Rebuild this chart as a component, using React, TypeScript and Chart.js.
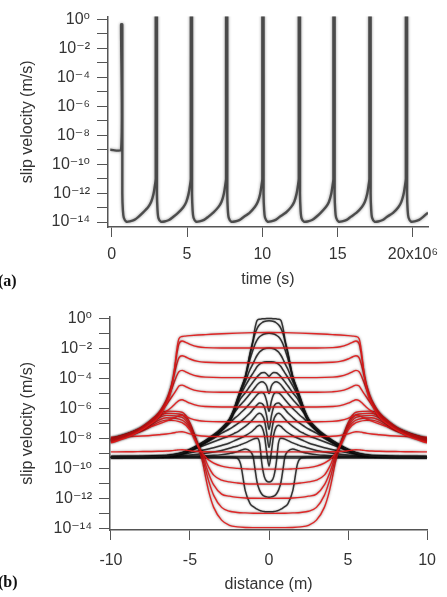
import React, { useEffect, useRef } from 'react';
import { Chart, registerables } from 'chart.js';

Chart.register(...registerables);

// ---------------- Panel (a): slip velocity vs time ----------------
// time in units of 10^6 s
const A_TIME_E6 = [
  -0.1, 0.62, 0.62, 0.70, 0.70, 0.74, 0.80, 0.97, 1.20, 1.50, 1.77, 2.07, 2.42, 2.62, 2.77, 2.86, 2.92,
  2.92, 3.00, 3.00, 3.04, 3.10, 3.27, 3.50, 3.80, 4.07, 4.40, 4.75, 4.95, 5.10, 5.19, 5.25,
  5.25, 5.33, 5.33, 5.37, 5.43, 5.60, 5.83, 6.13, 6.40, 6.74, 7.09, 7.29, 7.44, 7.53, 7.59,
  7.59, 7.67, 7.67, 7.71, 7.77, 7.94, 8.17, 8.47, 8.74, 9.15, 9.50, 9.70, 9.85, 9.94, 10.00,
  10.00, 10.08, 10.08, 10.12, 10.18, 10.35, 10.58, 10.88, 11.15, 11.57, 11.92, 12.12, 12.27, 12.36, 12.42,
  12.42, 12.50, 12.50, 12.54, 12.60, 12.77, 13.00, 13.30, 13.57, 13.87, 14.22, 14.42, 14.57, 14.66, 14.72,
  14.72, 14.80, 14.80, 14.84, 14.90, 15.07, 15.30, 15.60, 15.87, 16.26, 16.61, 16.81, 16.96, 17.05, 17.11,
  17.11, 17.19, 17.19, 17.23, 17.29, 17.46, 17.69, 17.99, 18.26, 18.68, 19.03, 19.23, 19.38, 19.47, 19.53,
  19.53, 19.61, 19.61, 19.65, 19.71, 19.88, 20.11, 20.41, 20.68, 21.00,
];
// log10 of slip velocity (m/s)
const A_LOG_V = [
  -9.0, -9.0, -0.34, -0.34, -12.0, -13.2, -13.7, -13.97, -13.95, -13.85, -13.64, -13.35, -12.96, -12.6, -12.06, -11.5, -11.0,
  0.5, 0.5, -12.0, -13.2, -13.72, -13.98, -13.96, -13.86, -13.65, -13.36, -12.97, -12.6, -12.05, -11.5, -11.0,
  0.5, 0.5, -12.0, -13.2, -13.7, -13.97, -13.95, -13.85, -13.64, -13.35, -12.95, -12.6, -12.06, -11.5, -11.0,
  0.5, 0.5, -12.0, -13.2, -13.71, -13.98, -13.96, -13.86, -13.66, -13.36, -12.96, -12.6, -12.07, -11.5, -11.0,
  0.5, 0.5, -12.0, -13.2, -13.7, -13.97, -13.95, -13.85, -13.64, -13.34, -12.95, -12.6, -12.05, -11.5, -11.0,
  0.5, 0.5, -12.0, -13.2, -13.72, -13.98, -13.96, -13.86, -13.65, -13.36, -12.96, -12.61, -12.06, -11.5, -11.0,
  0.5, 0.5, -12.0, -13.2, -13.7, -13.97, -13.95, -13.85, -13.64, -13.35, -12.96, -12.6, -12.06, -11.5, -11.0,
  0.5, 0.5, -12.0, -13.2, -13.71, -13.98, -13.96, -13.86, -13.65, -13.36, -12.97, -12.6, -12.06, -11.5, -11.0,
  0.5, 0.5, -12.0, -13.2, -13.7, -13.97, -13.95, -13.85, -13.64, -13.35,
];
const A_X_TICKS = [0, 5e6, 10e6, 15e6, 20e6];
const A_X_LABELS = ['0', '5', '10', '15', '20x10\u2076'];

// shared log-axis ticks
const Y_TICK_EXPS = [0, -1, -2, -3, -4, -5, -6, -7, -8, -9, -10, -11, -12, -13, -14];
const Y_TICK_LABELS = ['10⁰', '', '10⁻²', '', '10⁻⁴', '', '10⁻⁶', '', '10⁻⁸', '', '10⁻¹⁰', '', '10⁻¹²', '', '10⁻¹⁴'];

// ---------------- Panel (b): slip velocity vs distance ----------------
const B_X_TICKS = [-10, -5, 0, 5, 10];
const B_X_LABELS = ['-10', '-5', '0', '5', '10'];

// black (nucleation) profiles: log10 velocity at |distance| (m), symmetric about 0
const BLACK_DIST = [0, 0.15, 0.3, 0.45, 0.6, 0.75, 0.9, 1.0, 1.2, 1.5, 1.8, 2.0, 2.2, 2.5, 3, 3.5, 4.5, 5.5, 6.5, 8, 10];
const K_A = [0, 0, -0.01, -0.02, -0.04, -0.12, -0.7, -1.35, -2.3, -3.85, -4.75, -5.35, -6.0, -6.7, -7.3, -7.75, -8.45, -8.95, -9.15, -9.22, -9.25];
const K_B = [-0.15, -0.16, -0.2, -0.28, -0.42, -0.65, -1.05, -1.5, -2.4, -3.9, -4.8, -5.4, -6.05, -6.75, -7.35, -7.8, -8.48, -8.97, -9.16, -9.22, -9.25];
const K_C = [-0.98, -0.99, -1.03, -1.1, -1.22, -1.42, -1.75, -2.05, -2.7, -3.95, -4.85, -5.45, -6.05, -6.75, -7.35, -7.8, -8.48, -8.97, -9.16, -9.22, -9.25];
const K_D = [-1.97, -1.98, -2.02, -2.1, -2.23, -2.45, -2.75, -2.98, -3.4, -4.2, -4.95, -5.5, -6.1, -6.8, -7.38, -7.82, -8.5, -8.98, -9.17, -9.22, -9.25];
const K_E = [-2.88, -2.88, -2.9, -2.95, -3.05, -3.2, -3.45, -3.62, -3.95, -4.5, -5.1, -5.6, -6.15, -6.82, -7.4, -7.85, -8.5, -8.98, -9.17, -9.22, -9.25];
const K_F = [-3.85, -3.7, -3.6, -3.62, -3.72, -3.88, -4.08, -4.22, -4.5, -4.95, -5.35, -5.75, -6.2, -6.85, -7.42, -7.87, -8.52, -8.99, -9.17, -9.22, -9.25];
const K_G = [-5.0, -4.5, -4.28, -4.22, -4.28, -4.42, -4.62, -4.76, -5.02, -5.4, -5.75, -6.0, -6.3, -6.9, -7.45, -7.9, -8.53, -9.0, -9.18, -9.22, -9.25];
const K_H = [-6.2, -5.5, -5.05, -4.93, -4.95, -5.08, -5.27, -5.4, -5.65, -6.0, -6.3, -6.5, -6.68, -7.0, -7.5, -7.92, -8.55, -9.0, -9.18, -9.22, -9.25];
const K_I = [-7.4, -6.5, -5.88, -5.67, -5.63, -5.75, -5.93, -6.05, -6.3, -6.6, -6.88, -7.03, -7.17, -7.37, -7.65, -8.0, -8.58, -9.02, -9.18, -9.22, -9.25];
const K_J = [-8.6, -7.6, -6.75, -6.42, -6.32, -6.4, -6.58, -6.7, -6.92, -7.2, -7.42, -7.56, -7.66, -7.82, -8.02, -8.22, -8.62, -9.03, -9.18, -9.22, -9.25];
const K_K = [-9.85, -8.9, -7.75, -7.25, -7.12, -7.2, -7.35, -7.45, -7.62, -7.82, -7.97, -8.07, -8.16, -8.3, -8.47, -8.62, -8.85, -9.06, -9.19, -9.22, -9.25];
const K_L = [-10.9, -10.85, -10.55, -9.7, -8.3, -7.98, -8.0, -8.05, -8.15, -8.3, -8.42, -8.5, -8.56, -8.66, -8.8, -8.9, -9.05, -9.15, -9.2, -9.22, -9.25];
const K_M = [-11.92, -11.9, -11.85, -11.72, -11.45, -10.95, -9.95, -9.25, -8.85, -8.7, -8.8, -8.88, -8.94, -9.0, -9.08, -9.13, -9.18, -9.2, -9.22, -9.23, -9.25];
const K_N = [-12.9, -12.9, -12.88, -12.85, -12.8, -12.72, -12.62, -12.55, -12.35, -11.5, -9.7, -9.32, -9.27, -9.26, -9.25, -9.25, -9.25, -9.25, -9.25, -9.25, -9.25];
const K_BASE1 = [-9.2, -9.2, -9.2, -9.2, -9.2, -9.2, -9.2, -9.2, -9.2, -9.2, -9.2, -9.2, -9.2, -9.2, -9.2, -9.2, -9.2, -9.2, -9.2, -9.2, -9.2];
const K_BASE2 = [-9.3, -9.3, -9.3, -9.3, -9.3, -9.3, -9.3, -9.3, -9.3, -9.3, -9.3, -9.3, -9.3, -9.3, -9.3, -9.3, -9.3, -9.3, -9.3, -9.3, -9.3];

// red (rupture / post-rupture) profiles, upper family
const RED_DIST = [0, 1, 2, 3, 4, 4.5, 5.0, 5.3, 5.5, 5.7, 5.85, 6.0, 6.2, 6.5, 7.0, 7.5, 8.3, 9, 10];
const R_0 = [-0.93, -0.94, -0.97, -1.01, -1.07, -1.1, -1.14, -1.17, -1.2, -1.35, -2.2, -3.6, -4.85, -5.75, -6.6, -7.05, -7.6, -7.95, -8.3];
const R_1 = [-1.97, -1.97, -1.97, -1.97, -1.94, -1.88, -1.72, -1.57, -1.5, -1.7, -2.5, -3.5, -4.6, -5.6, -6.5, -6.98, -7.55, -7.9, -8.25];
const R_2 = [-2.95, -2.95, -2.95, -2.95, -2.92, -2.86, -2.7, -2.55, -2.48, -2.62, -3.1, -3.75, -4.55, -5.45, -6.4, -6.9, -7.5, -7.85, -8.2];
const R_3 = [-3.94, -3.94, -3.94, -3.94, -3.91, -3.85, -3.69, -3.54, -3.46, -3.55, -3.85, -4.25, -4.8, -5.45, -6.3, -6.82, -7.45, -7.8, -8.15];
const R_4 = [-4.92, -4.92, -4.92, -4.92, -4.89, -4.83, -4.67, -4.52, -4.44, -4.5, -4.75, -5.0, -5.3, -5.75, -6.35, -6.8, -7.4, -7.75, -8.1];
const R_5 = [-5.9, -5.9, -5.9, -5.9, -5.87, -5.81, -5.65, -5.5, -5.42, -5.47, -5.6, -5.75, -5.95, -6.2, -6.6, -6.92, -7.4, -7.72, -8.05];
const R_6 = [-6.89, -6.89, -6.89, -6.89, -6.86, -6.8, -6.66, -6.52, -6.45, -6.48, -6.55, -6.62, -6.72, -6.85, -7.05, -7.22, -7.5, -7.72, -8.0];
const R_7 = [-7.87, -7.87, -7.87, -7.87, -7.85, -7.8, -7.7, -7.6, -7.55, -7.56, -7.58, -7.62, -7.66, -7.7, -7.75, -7.8, -7.85, -7.88, -7.92];
const R_8 = [-8.9, -8.9, -8.9, -8.9, -8.89, -8.87, -8.82, -8.77, -8.75, -8.76, -8.78, -8.8, -8.82, -8.84, -8.86, -8.87, -8.88, -8.89, -8.9];

// red profiles, lower (healing) family
const LOW_DIST = [0, 1, 1.5, 2, 2.5, 3, 3.5, 3.8, 4.0, 4.2, 4.4, 4.7, 5.0, 5.5, 6.5, 8, 10];
const Q_1 = [-10.05, -10.05, -10.03, -10.0, -9.95, -9.85, -9.65, -9.45, -9.25, -9.0, -8.72, -8.1, -7.45, -6.95, -6.78, -7.5, -8.2];
const Q_2 = [-11.05, -11.04, -11.02, -10.97, -10.9, -10.78, -10.45, -9.95, -9.5, -9.05, -8.65, -7.98, -7.32, -6.78, -6.62, -7.44, -8.16];
const Q_3 = [-12.0, -11.99, -11.97, -11.93, -11.85, -11.72, -11.1, -10.4, -9.8, -9.15, -8.62, -7.88, -7.2, -6.6, -6.46, -7.38, -8.12];
const Q_4 = [-13.0, -12.99, -12.97, -12.94, -12.86, -12.6, -11.8, -10.9, -10.15, -9.35, -8.72, -7.85, -7.08, -6.42, -6.32, -7.32, -8.08];
const Q_5 = [-13.95, -13.95, -13.94, -13.9, -13.8, -13.45, -12.6, -11.6, -10.65, -9.6, -8.82, -7.8, -6.95, -6.25, -6.18, -7.26, -8.04];

const BLACK_SET = [K_A, K_B, K_C, K_D, K_E, K_F, K_G, K_H, K_I, K_J, K_K, K_L, K_M, K_N, K_BASE1, K_BASE2];
const RED_SET = [R_0, R_1, R_2, R_3, R_4, R_5, R_6, R_7, R_8];
const LOW_SET = [Q_1, Q_2, Q_3, Q_4, Q_5];

// ---------------- helpers ----------------
const FONT = '"Liberation Sans", Arial, "DejaVu Sans", sans-serif';
const TEXT = '#333';
const AXIS = '#555';

function symmetricPoints(dist: number[], logs: number[]) {
  const pts: { x: number; y: number }[] = [];
  for (let i = dist.length - 1; i > 0; i--) pts.push({ x: -dist[i], y: Math.pow(10, logs[i]) });
  for (let i = 0; i < dist.length; i++) pts.push({ x: dist[i], y: Math.pow(10, logs[i]) });
  return pts;
}

const glowPlugin = {
  id: 'glow',
  beforeDatasetDraw(chart: any, args: any) {
    const ds = chart.data.datasets[args.index];
    const ctx = chart.ctx;
    ctx.save();
    ctx.shadowColor = ds.glowColor || 'rgba(0,0,0,0)';
    ctx.shadowBlur = ds.glowBlur || 0;
  },
  afterDatasetDraw(chart: any) {
    chart.ctx.restore();
  },
};

function yAxis(minExp: number, maxExp: number, width: number) {
  return {
    type: 'logarithmic' as const,
    min: Math.pow(10, minExp),
    max: Math.pow(10, maxExp),
    afterBuildTicks: (s: any) => {
      s.ticks = Y_TICK_EXPS.map((e) => ({ value: Math.pow(10, e) }));
    },
    afterFit: (s: any) => {
      s.width = width;
    },
    ticks: {
      autoSkip: false,
      callback: (_v: any, i: number) => Y_TICK_LABELS[i],
      font: { family: FONT, size: 16 },
      color: TEXT,
      padding: 7,
    },
    grid: { drawOnChartArea: false, drawTicks: true, tickLength: 11, tickColor: AXIS, tickWidth: 1 },
    border: { display: true, color: AXIS, width: 1.5 },
    title: {
      display: true,
      text: 'slip velocity (m/s)',
      font: { family: FONT, size: 16 },
      color: TEXT,
      padding: { top: 18, bottom: 0 },
    },
  };
}

function xAxis(min: number, max: number, ticks: number[], labels: string[], title: string, height: number, tickPad: number, titlePad: number) {
  return {
    type: 'linear' as const,
    min,
    max,
    afterBuildTicks: (s: any) => {
      s.ticks = ticks.map((v) => ({ value: v }));
    },
    afterFit: (s: any) => {
      s.height = height;
    },
    ticks: {
      autoSkip: false,
      maxRotation: 0,
      callback: (_v: any, i: number) => labels[i],
      font: { family: FONT, size: 16 },
      color: TEXT,
      padding: tickPad,
    },
    grid: { drawOnChartArea: false, drawTicks: true, tickLength: 10, tickColor: AXIS, tickWidth: 1 },
    border: { display: true, color: AXIS, width: 1.5 },
    title: {
      display: true,
      text: title,
      font: { family: FONT, size: 16 },
      color: TEXT,
      padding: { top: 0, bottom: titlePad },
    },
  };
}

export default function App() {
  const topRef = useRef<HTMLCanvasElement>(null);
  const botRef = useRef<HTMLCanvasElement>(null);

  useEffect(() => {
    const topData = A_TIME_E6.map((t, i) => ({ x: t * 1e6, y: Math.pow(10, A_LOG_V[i]) }));
    const top = new Chart(topRef.current as HTMLCanvasElement, {
      type: 'line',
      data: {
        datasets: [
          {
            data: topData,
            borderColor: 'rgba(60,60,60,0.88)',
            borderWidth: 2.4,
            pointRadius: 0,
            tension: 0.2,
            fill: false,
            glowColor: 'rgba(0,0,0,0.5)',
            glowBlur: 3,
          } as any,
        ],
      },
      options: {
        animation: false,
        responsive: false,
        devicePixelRatio: 1,
        layout: { padding: { top: 12, right: 19, left: 0, bottom: 0 } },
        plugins: { legend: { display: false }, tooltip: { enabled: false } },
        scales: {
          x: xAxis(-0.25e6, 21e6, A_X_TICKS, A_X_LABELS, 'time (s)', 73, 8, 10.5) as any,
          y: yAxis(-14.34, 0.2, 108) as any,
        },
      },
      plugins: [glowPlugin],
    });

    const datasets: any[] = [];
    RED_SET.forEach((p) =>
      datasets.push({
        data: symmetricPoints(RED_DIST, p),
        borderColor: 'rgba(225,25,25,0.92)',
        borderWidth: 1.4,
        order: 0,
        glowColor: 'rgba(40,0,0,0.6)',
        glowBlur: 2.5,
      })
    );
    LOW_SET.forEach((p) =>
      datasets.push({
        data: symmetricPoints(LOW_DIST, p),
        borderColor: 'rgba(225,25,25,0.92)',
        borderWidth: 1.4,
        order: 0,
        glowColor: 'rgba(40,0,0,0.6)',
        glowBlur: 2.5,
      })
    );
    BLACK_SET.forEach((p) =>
      datasets.push({
        data: symmetricPoints(BLACK_DIST, p),
        borderColor: 'rgba(25,25,25,0.85)',
        borderWidth: 1.5,
        order: 1,
        glowColor: 'rgba(0,0,0,0.45)',
        glowBlur: 2,
      })
    );
    datasets.forEach((d) => {
      d.pointRadius = 0;
      d.fill = false;
      d.cubicInterpolationMode = 'monotone';
    });

    const bot = new Chart(botRef.current as HTMLCanvasElement, {
      type: 'line',
      data: { datasets },
      options: {
        animation: false,
        responsive: false,
        devicePixelRatio: 1,
        layout: { padding: { top: 13, right: 15, left: 0, bottom: 0 } },
        plugins: { legend: { display: false }, tooltip: { enabled: false } },
        scales: {
          x: xAxis(-10.06, 10, B_X_TICKS, B_X_LABELS, 'distance (m)', 67, 11, 2.5) as any,
          y: yAxis(-14.11, 0.13, 110) as any,
        },
      },
      plugins: [glowPlugin],
    });

    return () => {
      top.destroy();
      bot.destroy();
    };
  }, []);

  const labelStyle: React.CSSProperties = {
    position: 'absolute',
    left: -2,
    font: 'bold 16px "Liberation Serif", "Times New Roman", serif',
    lineHeight: '16px',
    color: '#111',
  };

  return (
    <div style={{ position: 'absolute', left: 0, top: 0, width: 447, height: 597, background: '#fff', overflow: 'hidden' }}>
      <canvas ref={topRef} width={447} height={300} style={{ position: 'absolute', left: 0, top: 0 }} />
      <canvas ref={botRef} width={447} height={297} style={{ position: 'absolute', left: 0, top: 300 }} />
      <div style={{ ...labelStyle, top: 273 }}>(a)</div>
      <div style={{ ...labelStyle, top: 574 }}>(b)</div>
    </div>
  );
}
